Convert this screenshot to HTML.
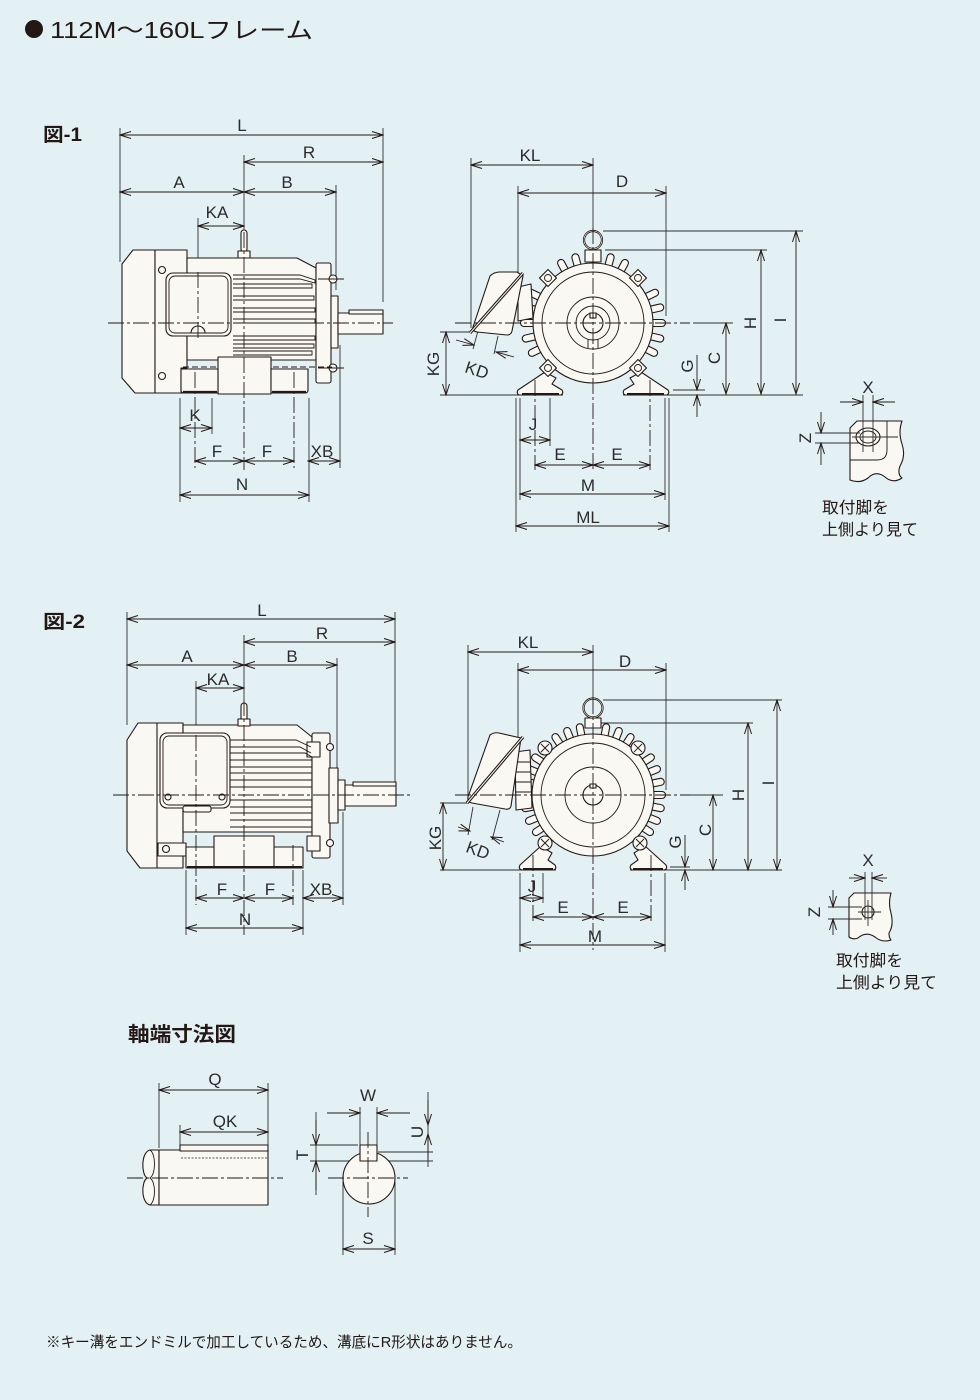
<!DOCTYPE html>
<html><head><meta charset="utf-8"><style>
html,body{margin:0;padding:0;background:#e3f1f4;}
svg{display:block}
.o{stroke:#231815;stroke-width:1.1;fill:#f9f8f2;stroke-linejoin:round}
.n{stroke:#231815;stroke-width:0.9;fill:none}
.e{stroke:#2e2e2e;stroke-width:0.9;fill:none}
.c{stroke:#231815;stroke-width:0.9;fill:none;stroke-dasharray:16 3 3 3}
.h{stroke:#231815;stroke-width:0.9;fill:none;stroke-dasharray:6 3}
.dd{stroke:#231815;stroke-width:0.9;fill:none;marker-start:url(#a);marker-end:url(#a)}
.sa{stroke:#231815;stroke-width:0.9;fill:none;marker-end:url(#a)}
.t{font-family:"Liberation Sans",sans-serif;font-size:17px;fill:#2b2b2b;text-anchor:middle}
.j{font-family:"Liberation Sans","Noto Sans CJK JP",sans-serif;fill:#231815}
</style></head><body>
<svg width="980" height="1400" viewBox="0 0 980 1400" xmlns="http://www.w3.org/2000/svg">
<defs>
<marker id="a" viewBox="-12 -5 13 10" markerWidth="13" markerHeight="10" refX="0" refY="0" orient="auto-start-reverse" markerUnits="userSpaceOnUse"><path d="M-11,-3.5 L0,0 L-11,3.5" fill="none" stroke="#231815" stroke-width="1"/></marker>
</defs>
<rect width="980" height="1400" fill="#e3f1f4"/>

<!-- Titles -->
<circle cx="34" cy="29" r="9" fill="#231815"/>
<text class="j" x="50" y="38" font-size="23" textLength="263" lengthAdjust="spacingAndGlyphs">112M〜160Lフレーム</text>
<text class="j" x="43" y="141" font-size="19" font-weight="bold" textLength="39" lengthAdjust="spacingAndGlyphs">図-1</text>
<text class="j" x="43" y="628" font-size="19" font-weight="bold" textLength="42" lengthAdjust="spacingAndGlyphs">図-2</text>

<!-- ================= FIG 1 SIDE ================= -->
<g class="e">
<line x1="120" y1="128" x2="120" y2="262"/>
<line x1="383" y1="128" x2="383" y2="302"/>
<line x1="336" y1="185" x2="336" y2="290"/>
<line x1="244" y1="155" x2="244" y2="232"/>
<line x1="198" y1="218" x2="198" y2="272"/>
<line x1="180" y1="398" x2="180" y2="502"/>
<line x1="309" y1="398" x2="309" y2="502"/>
<line x1="212" y1="398" x2="212" y2="434"/>
<line x1="340" y1="345" x2="340" y2="468"/>
</g>
<path class="o" d="M133,250 H155 V393 H135 L122,378 V264 Z"/>
<rect class="o" x="155" y="250" width="32" height="143"/>
<circle class="o" cx="162" cy="270" r="3.5"/>
<circle class="o" cx="162" cy="376" r="3.5"/>
<path class="o" d="M187,258 H297 L316,268 V360 H187 Z"/>
<path class="o" d="M187,368 H181 V392 H187 Z"/>
<rect class="o" x="316" y="263" width="15" height="120" rx="2"/>
<circle class="o" cx="333" cy="279" r="4"/>
<circle class="o" cx="333" cy="368" r="4"/>
<line class="n" x1="318" y1="279" x2="344" y2="279"/>
<line class="n" x1="318" y1="368" x2="344" y2="368"/>
<rect class="o" x="331" y="296" width="7" height="52"/>
<rect class="o" x="338" y="313" width="45" height="21"/>
<rect class="o" x="349" y="310" width="34" height="4"/>
<rect class="o" x="241" y="230" width="6" height="22" rx="3"/>
<rect class="o" x="238" y="251" width="12" height="7"/>
<g class="n">
<path d="M233,275H300L315,280V283L300,279H233"/>
<path d="M233,284H312V288H233"/>
<path d="M233,296H314V300H233"/>
<path d="M233,308H315V312H233"/>
<path d="M233,319H315V323H233"/>
<path d="M233,336H315V340H233"/>
<path d="M233,344H314V348H233"/>
<path d="M233,351H312V355H233"/>
</g>
<rect class="o" x="166" y="273" width="65" height="63" rx="7"/>
<rect class="n" x="169" y="276" width="59" height="57" rx="6"/>
<path class="o" d="M191,333 A7,7 0 0 1 205,333 Z"/>
<line class="h" x1="183" y1="367" x2="332" y2="367"/>
<rect class="o" x="218" y="357" width="53" height="37"/>
<path class="o" d="M181,369 H218 V393 H184 Q181,393 181,390 Z"/>
<path class="o" d="M271,369 H308 V390 Q308,393 305,393 H271 Z"/>
<line x1="183" y1="392" x2="217" y2="392" stroke="#231815" stroke-width="2.2"/>
<line x1="272" y1="392" x2="306" y2="392" stroke="#231815" stroke-width="2.2"/>
<g class="c">
<line x1="108" y1="323" x2="393" y2="323"/>
<line x1="244" y1="232" x2="244" y2="470"/>
<line x1="198" y1="272" x2="198" y2="340"/>
<line x1="195" y1="372" x2="195" y2="468"/>
<line x1="294" y1="372" x2="294" y2="468"/>
</g>
<g class="dd">
<line x1="120" y1="135" x2="383" y2="135"/>
<line x1="244" y1="162" x2="383" y2="162"/>
<line x1="120" y1="192" x2="244" y2="192"/>
<line x1="244" y1="192" x2="336" y2="192"/>
<line x1="198" y1="226" x2="244" y2="226"/>
<line x1="180" y1="428" x2="212" y2="428"/>
<line x1="195" y1="461" x2="244" y2="461"/>
<line x1="244" y1="461" x2="294" y2="461"/>
<line x1="308" y1="461" x2="340" y2="461"/>
<line x1="180" y1="495" x2="309" y2="495"/>
</g>
<g class="t">
<text x="242" y="131">L</text>
<text x="309" y="158">R</text>
<text x="179" y="188">A</text>
<text x="287" y="188">B</text>
<text x="217" y="218">KA</text>
<text x="195" y="421">K</text>
<text x="217" y="457">F</text>
<text x="267" y="457">F</text>
<text x="322" y="457">XB</text>
<text x="242" y="490">N</text>
</g>

<!-- ================= FIG 1 FRONT ================= -->
<g class="e">
<line x1="471" y1="158" x2="471" y2="328"/>
<line x1="518" y1="186" x2="518" y2="318"/>
<line x1="666" y1="186" x2="666" y2="316"/>
<line x1="593" y1="158" x2="593" y2="228"/>
<line x1="603" y1="231" x2="803" y2="231"/>
<line x1="605" y1="250" x2="767" y2="250"/>
<line x1="693" y1="323" x2="733" y2="323"/>
<line x1="673" y1="390" x2="705" y2="390"/>
<line x1="440" y1="395" x2="563" y2="395"/>
<line x1="623" y1="395" x2="803" y2="395"/>
<line x1="440" y1="332" x2="472" y2="332"/>
<line x1="516" y1="398" x2="516" y2="532"/>
<line x1="669" y1="398" x2="669" y2="532"/>
<line x1="520" y1="398" x2="520" y2="500"/>
<line x1="665" y1="398" x2="665" y2="500"/>
<line x1="550" y1="398" x2="550" y2="446"/>
<line x1="478" y1="331" x2="473" y2="349"/>
<line x1="498" y1="336" x2="494" y2="354"/>
</g>
<path class="o" d="M545,372 L518,390 Q516,393 519,395 H561 Q564,393 562,390 L552,384 L556,378 Z"/>
<path class="o" d="M641,372 L668,390 Q670,393 667,395 H625 Q622,393 624,390 L634,384 L630,378 Z"/>
<line x1="522" y1="394" x2="559" y2="394" stroke="#231815" stroke-width="2"/>
<line x1="627" y1="394" x2="664" y2="394" stroke="#231815" stroke-width="2"/>
<g transform="translate(593,323)">
<g class="o">
<path transform="rotate(0)" d="M58,-3.5 H69 A3.5,3.5 0 0 1 69,3.5 H58 Z"/>
<path transform="rotate(13)" d="M58,-3.5 H69 A3.5,3.5 0 0 1 69,3.5 H58 Z"/>
<path transform="rotate(26)" d="M58,-3.5 H68 A3.5,3.5 0 0 1 68,3.5 H58 Z"/>
<path transform="rotate(154)" d="M58,-3.5 H68 A3.5,3.5 0 0 1 68,3.5 H58 Z"/>
<path transform="rotate(167)" d="M58,-3.5 H69 A3.5,3.5 0 0 1 69,3.5 H58 Z"/>
<path transform="rotate(180)" d="M58,-3.5 H69 A3.5,3.5 0 0 1 69,3.5 H58 Z"/>
<path transform="rotate(193)" d="M58,-3.5 H69 A3.5,3.5 0 0 1 69,3.5 H58 Z"/>
<path transform="rotate(206)" d="M58,-3.5 H69 A3.5,3.5 0 0 1 69,3.5 H58 Z"/>
<path transform="rotate(242)" d="M58,-3.5 H68 A3.5,3.5 0 0 1 68,3.5 H58 Z"/>
<path transform="rotate(255)" d="M58,-3.5 H68 A3.5,3.5 0 0 1 68,3.5 H58 Z"/>
<path transform="rotate(285)" d="M58,-3.5 H68 A3.5,3.5 0 0 1 68,3.5 H58 Z"/>
<path transform="rotate(298)" d="M58,-3.5 H68 A3.5,3.5 0 0 1 68,3.5 H58 Z"/>
<path transform="rotate(334)" d="M58,-3.5 H69 A3.5,3.5 0 0 1 69,3.5 H58 Z"/>
<path transform="rotate(347)" d="M58,-3.5 H69 A3.5,3.5 0 0 1 69,3.5 H58 Z"/>
</g>
<circle class="o" r="60"/>
<circle class="n" r="51"/>
<circle class="n" r="26"/>
<circle class="n" r="17"/>
<circle class="o" r="10"/>
<rect class="o" x="-3" y="-10" width="6" height="5"/>
<path class="n" d="M-5,16 V25 M5,16 V25"/>
</g>
<g transform="translate(548,278) rotate(45)"><rect class="o" x="-6" y="-6" width="12" height="12"/><circle class="n" r="3.5"/></g>
<g transform="translate(638,278) rotate(45)"><rect class="o" x="-6" y="-6" width="12" height="12"/><circle class="n" r="3.5"/></g>
<g transform="translate(548,368) rotate(45)"><rect class="o" x="-6" y="-6" width="12" height="12"/><circle class="n" r="3.5"/></g>
<g transform="translate(638,368) rotate(45)"><rect class="o" x="-6" y="-6" width="12" height="12"/><circle class="n" r="3.5"/></g>
<rect class="o" x="585" y="250" width="16" height="12"/>
<circle cx="593" cy="240" r="9" fill="none" stroke="#231815" stroke-width="2.2"/>
<circle cx="593" cy="240" r="9" fill="none" stroke="#f9f8f2" stroke-width="0.6"/>
<path class="o" d="M518,287 L531,284 L533,318 L518,321 Z"/>
<path class="o" d="M490,276 Q494,272 500,272 H517 L523,276 L512,331 Q511,335 507,335 L477,332 Q472,331 473,327 Z"/>
<line x1="470" y1="333" x2="523" y2="273" stroke="#231815" stroke-width="3.2"/>
<line x1="470" y1="333" x2="523" y2="273" stroke="#f9f8f2" stroke-width="1"/>
<g class="c">
<line x1="455" y1="323" x2="690" y2="323"/>
<line x1="593" y1="228" x2="593" y2="470"/>
<line x1="535" y1="380" x2="535" y2="470"/>
<line x1="650" y1="380" x2="650" y2="470"/>
</g>
<g class="dd">
<line x1="471" y1="165" x2="593" y2="165"/>
<line x1="518" y1="193" x2="666" y2="193"/>
<line x1="446" y1="332" x2="446" y2="395"/>
<line x1="726" y1="323" x2="726" y2="394"/>
<line x1="761" y1="250" x2="761" y2="394"/>
<line x1="796" y1="231" x2="796" y2="394"/>
<line x1="520" y1="440" x2="550" y2="440"/>
<line x1="535" y1="465" x2="593" y2="465"/>
<line x1="593" y1="465" x2="650" y2="465"/>
<line x1="520" y1="494" x2="665" y2="494"/>
<line x1="516" y1="526" x2="669" y2="526"/>
</g>
<g class="sa">
<line x1="697" y1="355" x2="697" y2="390"/>
<line x1="697" y1="417" x2="697" y2="395"/>
<line x1="456" y1="340" x2="474" y2="345"/>
<line x1="514" y1="357" x2="496" y2="352"/>
</g>
<g class="t">
<text x="530" y="161">KL</text>
<text x="622" y="187">D</text>
<text transform="translate(433,364) rotate(-90)" y="6">KG</text>
<text transform="translate(477,370) rotate(18)" y="6">KD</text>
<text transform="translate(687,366) rotate(-90)" y="6">G</text>
<text transform="translate(714,358) rotate(-90)" y="6">C</text>
<text transform="translate(750,323) rotate(-90)" y="6">H</text>
<text transform="translate(780,320) rotate(-90)" y="6">I</text>
<text x="533" y="430">J</text>
<text x="560" y="460">E</text>
<text x="617" y="460">E</text>
<text x="588" y="491">M</text>
<text x="588" y="523">ML</text>
</g>

<path class="o" d="M850,428 L857,421 H902 Q898,432 902,444 Q906,456 900,466 Q897,474 902,478 Q893,484 885,477 Q876,470 868,478 Q860,484 850,480 Z"/>
<path class="n" d="M887,421 V450 Q887,460 877,460 H850"/>
<ellipse class="o" cx="868" cy="437" rx="12" ry="9"/>
<ellipse class="n" cx="868" cy="437" rx="8" ry="6"/>
<g class="e">
<line x1="863" y1="395" x2="863" y2="452"/>
<line x1="873" y1="395" x2="873" y2="452"/>
<line x1="815" y1="433" x2="860" y2="433"/>
<line x1="815" y1="443" x2="860" y2="443"/>
<line x1="852" y1="437" x2="898" y2="437"/>
</g>
<g class="sa">
<line x1="840" y1="402" x2="863" y2="402"/>
<line x1="895" y1="402" x2="873" y2="402"/>
<line x1="821" y1="412" x2="821" y2="433"/>
<line x1="821" y1="465" x2="821" y2="443"/>
</g>
<text class="t" x="868" y="393">X</text>
<text class="t" transform="translate(805,438) rotate(-90)" y="6">Z</text>
<text class="j" x="822" y="513" font-size="16" fill="#333" textLength="67" lengthAdjust="spacingAndGlyphs">取付脚を</text>
<text class="j" x="822" y="535" font-size="16" fill="#333" textLength="96" lengthAdjust="spacingAndGlyphs">上側より見て</text>

<!-- ================= FIG 2 SIDE ================= -->
<g class="e">
<line x1="127" y1="612" x2="127" y2="725"/>
<line x1="395" y1="612" x2="395" y2="785"/>
<line x1="337" y1="658" x2="337" y2="768"/>
<line x1="244" y1="635" x2="244" y2="700"/>
<line x1="196" y1="681" x2="196" y2="735"/>
<line x1="343" y1="812" x2="343" y2="905"/>
<line x1="186" y1="870" x2="186" y2="935"/>
<line x1="303" y1="870" x2="303" y2="935"/>
</g>
<path class="o" d="M138,723 H158 V868 H140 L127,851 V740 Z"/>
<rect class="o" x="157" y="723" width="26" height="145"/>
<path class="o" d="M158,843 H186 V856 H158 Z"/>
<circle class="o" cx="166" cy="849" r="3.5"/>
<path class="o" d="M183,725 H297 L312,737 V832 H183 Z"/>
<rect class="o" x="312" y="733" width="18" height="125" rx="2"/>
<rect class="o" x="307" y="742" width="13" height="15"/>
<rect class="o" x="307" y="836" width="13" height="15"/>
<circle class="o" cx="330" cy="747" r="3.5"/>
<circle class="o" cx="330" cy="843" r="3.5"/>
<rect class="o" x="329" y="768" width="9" height="55"/>
<rect class="o" x="338" y="780" width="7" height="30"/>
<rect class="o" x="345" y="785" width="51" height="21"/>
<rect class="o" x="353" y="782" width="43" height="4"/>
<rect class="o" x="241" y="703" width="6" height="18" rx="3"/>
<rect class="o" x="238" y="719" width="12" height="7"/>
<g class="n">
<path d="M230,740H296L311,747"/>
<path d="M230,747H300L311,753"/>
<path d="M230,753H305L312,757"/>
<path d="M230,760H312"/>
<path d="M230,767H312"/>
<path d="M230,773H312"/>
<path d="M230,780H312"/>
<path d="M230,787H312"/>
<path d="M230,800H312"/>
<path d="M230,807H312"/>
<path d="M230,813H312"/>
<path d="M230,820H312"/>
<path d="M230,827H312"/>
</g>
<rect class="o" x="160" y="733" width="70" height="75" rx="7"/>
<rect class="n" x="163" y="736" width="64" height="69" rx="6"/>
<rect class="o" x="183" y="806" width="28" height="6" rx="2"/>
<circle class="o" cx="168" cy="797" r="3"/>
<circle class="o" cx="222" cy="797" r="3"/>
<rect class="o" x="186" y="847" width="117" height="21"/>
<rect class="o" x="214" y="836" width="60" height="32"/>
<line x1="187" y1="867" x2="302" y2="867" stroke="#231815" stroke-width="2"/>
<g class="c">
<line x1="113" y1="795" x2="410" y2="795"/>
<line x1="244" y1="700" x2="244" y2="935"/>
<line x1="196" y1="735" x2="196" y2="905"/>
<line x1="293" y1="845" x2="293" y2="905"/>
</g>
<g class="dd">
<line x1="127" y1="619" x2="395" y2="619"/>
<line x1="244" y1="642" x2="395" y2="642"/>
<line x1="127" y1="665" x2="244" y2="665"/>
<line x1="244" y1="665" x2="337" y2="665"/>
<line x1="196" y1="688" x2="244" y2="688"/>
<line x1="196" y1="898" x2="244" y2="898"/>
<line x1="244" y1="898" x2="293" y2="898"/>
<line x1="303" y1="898" x2="343" y2="898"/>
<line x1="186" y1="928" x2="303" y2="928"/>
</g>
<g class="t">
<text x="262" y="616">L</text>
<text x="322" y="639">R</text>
<text x="187" y="662">A</text>
<text x="292" y="662">B</text>
<text x="218" y="685">KA</text>
<text x="222" y="895">F</text>
<text x="270" y="895">F</text>
<text x="321" y="895">XB</text>
<text x="245" y="925">N</text>
</g>

<!-- ================= FIG 2 FRONT ================= -->
<g class="e">
<line x1="468" y1="645" x2="468" y2="800"/>
<line x1="518" y1="663" x2="518" y2="790"/>
<line x1="666" y1="663" x2="666" y2="790"/>
<line x1="593" y1="645" x2="593" y2="698"/>
<line x1="603" y1="700" x2="782" y2="700"/>
<line x1="600" y1="723" x2="753" y2="723"/>
<line x1="690" y1="795" x2="723" y2="795"/>
<line x1="670" y1="867" x2="690" y2="867"/>
<line x1="440" y1="870" x2="556" y2="870"/>
<line x1="630" y1="870" x2="782" y2="870"/>
<line x1="440" y1="803" x2="468" y2="803"/>
<line x1="520" y1="873" x2="520" y2="952"/>
<line x1="665" y1="873" x2="665" y2="952"/>
<line x1="543" y1="873" x2="543" y2="903"/>
<line x1="473" y1="807" x2="468" y2="835"/>
<line x1="500" y1="810" x2="492" y2="840"/>
</g>
<path class="o" d="M541,846 L520,865 Q518,869 522,870 H554 Q557,868 555,865 L548,860 L552,853 Z"/>
<path class="o" d="M645,846 L666,865 Q668,869 664,870 H632 Q629,868 631,865 L638,860 L634,853 Z"/>
<line x1="523" y1="869" x2="553" y2="869" stroke="#231815" stroke-width="2"/>
<line x1="633" y1="869" x2="663" y2="869" stroke="#231815" stroke-width="2"/>
<g transform="translate(593,795)">
<g class="o">
<path transform="rotate(0)" d="M59,-3.5 H69 A3.5,3.5 0 0 1 69,3.5 H59 Z"/>
<path transform="rotate(11)" d="M59,-3.5 H69 A3.5,3.5 0 0 1 69,3.5 H59 Z"/>
<path transform="rotate(22)" d="M59,-3.5 H69 A3.5,3.5 0 0 1 69,3.5 H59 Z"/>
<path transform="rotate(33)" d="M59,-3.5 H68 A3.5,3.5 0 0 1 68,3.5 H59 Z"/>
<path transform="rotate(147)" d="M59,-3.5 H68 A3.5,3.5 0 0 1 68,3.5 H59 Z"/>
<path transform="rotate(158)" d="M59,-3.5 H69 A3.5,3.5 0 0 1 69,3.5 H59 Z"/>
<path transform="rotate(169)" d="M59,-3.5 H69 A3.5,3.5 0 0 1 69,3.5 H59 Z"/>
<path transform="rotate(180)" d="M59,-3.5 H69 A3.5,3.5 0 0 1 69,3.5 H59 Z"/>
<path transform="rotate(191)" d="M59,-3.5 H69 A3.5,3.5 0 0 1 69,3.5 H59 Z"/>
<path transform="rotate(202)" d="M59,-3.5 H69 A3.5,3.5 0 0 1 69,3.5 H59 Z"/>
<path transform="rotate(213)" d="M59,-3.5 H69 A3.5,3.5 0 0 1 69,3.5 H59 Z"/>
<path transform="rotate(237)" d="M59,-3.5 H69 A3.5,3.5 0 0 1 69,3.5 H59 Z"/>
<path transform="rotate(248)" d="M59,-3.5 H69 A3.5,3.5 0 0 1 69,3.5 H59 Z"/>
<path transform="rotate(259)" d="M59,-3.5 H69 A3.5,3.5 0 0 1 69,3.5 H59 Z"/>
<path transform="rotate(281)" d="M59,-3.5 H69 A3.5,3.5 0 0 1 69,3.5 H59 Z"/>
<path transform="rotate(292)" d="M59,-3.5 H69 A3.5,3.5 0 0 1 69,3.5 H59 Z"/>
<path transform="rotate(303)" d="M59,-3.5 H69 A3.5,3.5 0 0 1 69,3.5 H59 Z"/>
<path transform="rotate(327)" d="M59,-3.5 H69 A3.5,3.5 0 0 1 69,3.5 H59 Z"/>
<path transform="rotate(338)" d="M59,-3.5 H69 A3.5,3.5 0 0 1 69,3.5 H59 Z"/>
<path transform="rotate(349)" d="M59,-3.5 H69 A3.5,3.5 0 0 1 69,3.5 H59 Z"/>
</g>
<circle class="o" r="61"/>
<circle class="n" r="52"/>
<circle class="n" r="28"/>
<circle class="o" r="10"/>
<rect class="o" x="-3" y="-11" width="6" height="4"/>
</g>
<g transform="translate(545,748)"><circle class="o" r="7"/><path class="n" d="M-4,-4 L4,4 M-4,4 L4,-4"/></g>
<g transform="translate(638,748)"><circle class="o" r="7"/><path class="n" d="M-4,-4 L4,4 M-4,4 L4,-4"/></g>
<g transform="translate(545,843)"><circle class="o" r="7"/><path class="n" d="M-4,-4 L4,4 M-4,4 L4,-4"/></g>
<g transform="translate(640,843)"><circle class="o" r="7"/><path class="n" d="M-4,-4 L4,4 M-4,4 L4,-4"/></g>
<rect class="o" x="585" y="718" width="16" height="10"/>
<circle cx="593" cy="708" r="9.5" fill="none" stroke="#231815" stroke-width="2.2"/>
<circle cx="593" cy="708" r="9.5" fill="none" stroke="#f9f8f2" stroke-width="0.6"/>
<path class="o" d="M515,752 L530,750 L532,808 L516,810 Z"/>
<path class="n" d="M515,762 H531 M515,772 H531 M515,782 H531 M515,792 H531"/>
<path class="o" d="M490,735 Q494,732 499,733 L521,738 L511,806 Q510,810 505,809 L472,803 Q467,802 468,797 Z"/>
<line x1="467" y1="803" x2="523" y2="737" stroke="#231815" stroke-width="3.2"/>
<line x1="467" y1="803" x2="523" y2="737" stroke="#f9f8f2" stroke-width="1"/>
<g class="c">
<line x1="455" y1="795" x2="690" y2="795"/>
<line x1="593" y1="698" x2="593" y2="950"/>
<line x1="533" y1="855" x2="533" y2="922"/>
<line x1="651" y1="855" x2="651" y2="922"/>
</g>
<g class="dd">
<line x1="468" y1="652" x2="593" y2="652"/>
<line x1="518" y1="670" x2="666" y2="670"/>
<line x1="443" y1="803" x2="443" y2="870"/>
<line x1="713" y1="795" x2="713" y2="870"/>
<line x1="748" y1="723" x2="748" y2="870"/>
<line x1="777" y1="700" x2="777" y2="870"/>
<line x1="520" y1="898" x2="543" y2="898"/>
<line x1="533" y1="917" x2="593" y2="917"/>
<line x1="593" y1="917" x2="651" y2="917"/>
<line x1="520" y1="945" x2="665" y2="945"/>
</g>
<g class="sa">
<line x1="685" y1="835" x2="685" y2="867"/>
<line x1="685" y1="890" x2="685" y2="870"/>
<line x1="458" y1="827" x2="470" y2="831"/>
<line x1="504" y1="842" x2="491" y2="837"/>
</g>
<g class="t">
<text x="528" y="648">KL</text>
<text x="625" y="667">D</text>
<text transform="translate(435,838) rotate(-90)" y="6">KG</text>
<text transform="translate(478,850) rotate(20)" y="6">KD</text>
<text transform="translate(675,842) rotate(-90)" y="6">G</text>
<text transform="translate(705,830) rotate(-90)" y="6">C</text>
<text transform="translate(738,795) rotate(-90)" y="6">H</text>
<text transform="translate(768,783) rotate(-90)" y="6">I</text>
<text x="532" y="892">J</text>
<text x="563" y="913">E</text>
<text x="623" y="913">E</text>
<text x="595" y="942">M</text>
</g>

<path class="o" d="M849,898 L854,893 H891 Q888,903 891,913 Q894,925 889,933 Q889,938 891,940 Q882,943 875,937 Q866,931 858,938 Q853,940 849,937 Z"/>
<circle class="o" cx="868" cy="912" r="6"/>
<g class="e">
<line x1="865" y1="872" x2="865" y2="920"/>
<line x1="872" y1="872" x2="872" y2="920"/>
<line x1="828" y1="907" x2="862" y2="907"/>
<line x1="828" y1="919" x2="862" y2="919"/>
<line x1="858" y1="912" x2="881" y2="912"/>
<line x1="868" y1="900" x2="868" y2="926"/>
</g>
<g class="sa">
<line x1="849" y1="878" x2="865" y2="878"/>
<line x1="887" y1="878" x2="872" y2="878"/>
<line x1="833" y1="890" x2="833" y2="907"/>
<line x1="833" y1="935" x2="833" y2="919"/>
</g>
<text class="t" x="868" y="866">X</text>
<text class="t" transform="translate(814,912) rotate(-90)" y="6">Z</text>
<text class="j" x="836" y="966" font-size="16" fill="#333" textLength="67" lengthAdjust="spacingAndGlyphs">取付脚を</text>
<text class="j" x="836" y="988" font-size="16" fill="#333" textLength="101" lengthAdjust="spacingAndGlyphs">上側より見て</text>

<!-- ================= SHAFT DETAIL ================= -->
<text class="j" x="128" y="1041" font-size="20" font-weight="bold" textLength="108" lengthAdjust="spacingAndGlyphs">軸端寸法図</text>
<g class="e">
<line x1="159" y1="1083" x2="159" y2="1148"/>
<line x1="268" y1="1083" x2="268" y2="1205"/>
<line x1="180" y1="1125" x2="180" y2="1158"/>
</g>
<path class="o" d="M159,1150 H150 C141,1152 141,1174 147,1178 C141,1182 141,1203 150,1205 H159 Z"/>
<path class="n" d="M150,1150 C156,1154 156,1174 150,1178 C156,1182 156,1201 150,1205"/>
<rect class="o" x="159" y="1150" width="109" height="55"/>
<rect class="o" x="180" y="1145" width="88" height="6"/>
<line x1="181" y1="1158" x2="268" y2="1158" stroke="#555" stroke-width="1" stroke-dasharray="2 1.5"/>
<line class="c" x1="127" y1="1178" x2="283" y2="1178"/>
<g class="dd">
<line x1="159" y1="1090" x2="268" y2="1090"/>
<line x1="180" y1="1132" x2="268" y2="1132"/>
</g>
<text class="t" x="215" y="1085">Q</text>
<text class="t" x="225" y="1127">QK</text>

<g class="e">
<line x1="360" y1="1107" x2="360" y2="1145"/>
<line x1="377" y1="1107" x2="377" y2="1145"/>
<line x1="310" y1="1145" x2="358" y2="1145"/>
<line x1="310" y1="1161" x2="433" y2="1161"/>
<line x1="378" y1="1152" x2="433" y2="1152"/>
<line x1="343" y1="1182" x2="343" y2="1255"/>
<line x1="395" y1="1182" x2="395" y2="1255"/>
<line x1="316" y1="1112" x2="316" y2="1195"/>
<line x1="428" y1="1092" x2="428" y2="1167"/>
</g>
<circle class="o" cx="369" cy="1178" r="26"/>
<rect class="o" x="360" y="1145" width="17" height="16"/>
<g class="c">
<line x1="368" y1="1132" x2="368" y2="1217"/>
<line x1="328" y1="1178" x2="408" y2="1178"/>
</g>
<g class="sa">
<line x1="327" y1="1113" x2="360" y2="1113"/>
<line x1="410" y1="1113" x2="377" y2="1113"/>
<line x1="316" y1="1120" x2="316" y2="1145"/>
<line x1="316" y1="1190" x2="316" y2="1161"/>
<line x1="428" y1="1100" x2="428" y2="1125"/>
<line x1="428" y1="1160" x2="428" y2="1134"/>
</g>
<g class="dd">
<line x1="343" y1="1249" x2="395" y2="1249"/>
</g>
<text class="t" x="368" y="1101">W</text>
<text class="t" transform="translate(302,1155) rotate(-90)" y="6">T</text>
<text class="t" transform="translate(417,1132) rotate(-90)" y="6">U</text>
<text class="t" x="368" y="1244">S</text>

<text class="j" x="46" y="1347" font-size="15" fill="#333" textLength="476" lengthAdjust="spacingAndGlyphs">※キー溝をエンドミルで加工しているため、溝底にR形状はありません。</text>
</svg>
</body></html>
